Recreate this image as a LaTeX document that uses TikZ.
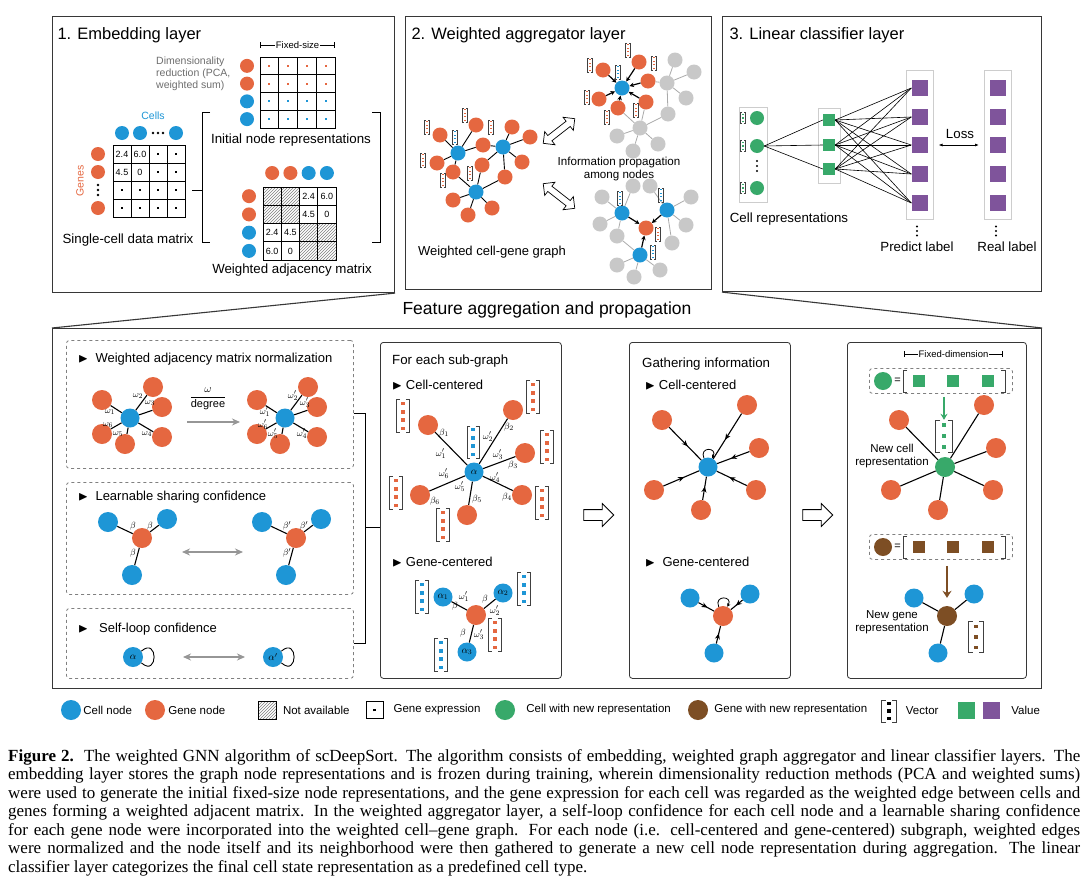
\documentclass[tikz,border=0pt]{standalone}
\usepackage{amsmath,amssymb}
\usepackage{fontspec}
\setmainfont{Liberation Sans}
\newfontfamily\capfont{Liberation Serif}
\usetikzlibrary{positioning,calc,patterns,shapes.arrows,arrows.meta,decorations.markings}

\definecolor{cellblue}{RGB}{30,150,214}
\definecolor{geneorange}{RGB}{229,103,64}
\definecolor{newgreen}{RGB}{56,169,106}
\definecolor{newbrown}{RGB}{125,78,36}
\definecolor{valpurple}{RGB}{127,84,155}
\definecolor{othergray}{RGB}{200,200,200}
\definecolor{framegray}{RGB}{55,55,55}
\definecolor{boxgray}{RGB}{205,205,205}
\definecolor{dimgray}{RGB}{110,110,110}
\definecolor{arrowgray}{RGB}{150,150,150}

\tikzset{
  panelbox/.style={draw=framegray,line width=1.1pt,inner sep=0pt},
  subbox/.style={draw=framegray,line width=0.8pt,rounded corners=3pt,inner sep=0pt},
  dashbox/.style={draw=gray,dashed,line width=0.8pt,rounded corners=3pt,inner sep=0pt},
  nodedot/.style={circle,inner sep=0pt,minimum size=#1},
  cellnode/.style={nodedot=#1,fill=cellblue},
  cellnode/.default=19,
  genenode/.style={nodedot=#1,fill=geneorange},
  genenode/.default=20,
  othernode/.style={nodedot=#1,fill=othergray},
  othernode/.default=15,
  greennode/.style={nodedot=#1,fill=newgreen},
  greennode/.default=20,
  valuebox/.style={rectangle,inner sep=0pt,minimum size=#1},
  link/.style={line width=1.1pt},
  thinlink/.style={line width=0.6pt},
  graylink/.style={draw=othergray!85!black,line width=0.8pt},
  pushin/.style={-{Stealth[length=4.5pt,width=4.5pt]},line width=1.2pt},
  midarrow/.style={line width=1.1pt,postaction={decorate},
    decoration={markings,mark=at position 0.58 with {\arrow{Stealth[length=6pt,width=5pt]}}}},
  grayarrow/.style={{Stealth[length=8pt,width=7pt]}-{Stealth[length=8pt,width=7pt]},draw=arrowgray,line width=1.6pt},
  grayonearrow/.style={-{Stealth[length=8pt,width=7pt]},draw=arrowgray,line width=1.6pt},
  bracketline/.style={draw=darkgray,line width=0.6pt},
  headline/.style={anchor=west,inner sep=0pt,font=\fontsize{13}{15}\selectfont},
  labeltext/.style={font=\fontsize{13.3}{16}\selectfont},
  wlabel/.style={inner sep=0.5pt,font=\fontsize{9.5}{10}\selectfont},
  mcell/.style={draw,line width=0.7pt,inner sep=0pt},
  cellnum/.style={inner sep=0pt,font=\fontsize{9}{10}\selectfont},
  hatchcell/.style={pattern=north east lines,pattern color=gray},
  legendtext/.style={inner sep=0pt,anchor=west,font=\fontsize{11.5}{13}\selectfont}
}

% bracketed vector: name, position, colour, dots, width, height
\newcommand{\vecmark}[6]{%
  \node[inner sep=0pt,minimum width=#5,minimum height=#6] (#1) at (#2) {};
  \draw[bracketline] ([xshift=0.3*#5]#1.north west) -- (#1.north west) -- (#1.south west) -- ([xshift=0.3*#5]#1.south west);
  \draw[bracketline] ([xshift=-0.3*#5]#1.north east) -- (#1.north east) -- (#1.south east) -- ([xshift=-0.3*#5]#1.south east);
  \foreach \k in {1,...,#4}
    \fill[#3] ($(#1.north)!{(\k-0.5)/#4}!(#1.south)$) +(-0.13*#5,-0.13*#5) rectangle +(0.13*#5,0.13*#5);
}
\newcommand{\starlist}{1/-46/-47, 2/39/-62, 3/51/-19, 4/48/23, 5/-7/43, 6/-54/23}
\newcommand{\triadlist}{1/-33/-18, 2/27/-22, 3/-9/37}

\begin{document}
\begin{tikzpicture}[x=1pt,y=-1pt]
 \fill[white] (0,0) rectangle (1092,889);
 \useasboundingbox (0,0) rectangle (1092,889);

 % frames
 \node[panelbox,anchor=north west,minimum width=342,minimum height=276] (p1) at (52,16) {};
 \node[panelbox,anchor=north west,minimum width=306,minimum height=273] (p2) at (405,16) {};
 \node[panelbox,anchor=north west,minimum width=319,minimum height=275] (p3) at (722,16) {};
 \node[panelbox,anchor=north west,minimum width=989,minimum height=360] (p4) at (52,328) {};
 \draw[line width=1.1pt,framegray] (p1.south east) -- (p4.north west);
 \draw[line width=1.1pt,framegray] (p3.south west) -- (p4.north east);
 \node[font=\fontsize{17.5}{20}\selectfont] (fap) at (547,310) {Feature aggregation and propagation};

 % 1. Embedding layer
 \node[anchor=west,font=\fontsize{16.5}{19}\selectfont] (t1) at (54,35) {1. Embedding layer};
 \foreach \r in {1,...,4} \foreach \c in {1,...,4}
  \node[mcell,minimum size=18] (dm\r\c) at (104+18*\c,136+18*\r) {};
 \foreach \r/\c/\t in {1/1/2.4,1/2/6.0,2/1/4.5,2/2/0} \node[cellnum] (dmt\r\c) at (dm\r\c) {\t};
 \foreach \r/\c in {1/3,1/4,2/3,2/4,3/1,3/2,3/3,3/4,4/1,4/2,4/3,4/4} \fill (dm\r\c) +(-1,-1) rectangle +(1,1);
 \foreach \i/\x in {1/122,2/140,4/176} \node[cellnode=14] (dc\i) at (\x,133) {};
 \foreach \k in {-1,0,1} \fill (158+5*\k,133) circle (1.3);
 \foreach \i/\y in {1/154,2/172,4/208} \node[genenode=14] (dg\i) at (98,\y) {};
 \foreach \k in {-1,0,1} \fill (98,190+5*\k) circle (1.3);
 \node[text=cellblue,font=\fontsize{10.5}{12}\selectfont] (cellslbl) at (153,116) {Cells};
 \node[text=geneorange,rotate=90,font=\fontsize{10.5}{12}\selectfont] (geneslbl) at (80,181) {Genes};
 \node[labeltext] (scdm) at (128,240) {Single-cell data matrix};

 \draw[line width=0.8pt] (210,112) -- (202,112) -- (202,242) -- (210,242);
 \draw[line width=0.8pt] (372,112) -- (380,112) -- (380,242) -- (372,242);
 \draw[line width=0.8pt] (192,190) -- (202,190);

 \draw[|-|,line width=0.6pt] (260,45) -- (335,45) node[midway,fill=white,inner sep=1pt,font=\fontsize{9.5}{10}\selectfont] (fxs) {Fixed-size};
 \node[anchor=north west,align=left,text=dimgray,inner sep=0pt,font=\fontsize{10.5}{11.8}\selectfont] (dimred) at (156,57) {Dimensionality\\reduction (PCA,\\weighted sum)};
 \foreach \r/\col in {1/geneorange,2/geneorange,3/cellblue,4/cellblue} {
  \node[nodedot=14,fill=\col] (ir\r) at (247,48.1+17.75*\r) {};
  \foreach \c in {1,...,4} {
   \node[mcell,minimum width=18.75,minimum height=17.75] (inr\r\c) at (250.6+18.75*\c,48.1+17.75*\r) {};
   \fill[\col] (inr\r\c) +(-1,-1) rectangle +(1,1);
  }
 }
 \node[labeltext] (inrlbl) at (291,140) {Initial node representations};

 \foreach \r/\c in {1/1,1/2,2/1,2/2,3/3,3/4,4/3,4/4}
  \path[hatchcell] (253.9+18.25*\c,177.9+18.25*\r) +(-9.1,-9.1) rectangle +(9.1,9.1);
 \foreach \r in {1,...,4} \foreach \c in {1,...,4}
  \node[mcell,minimum size=18.25] (wam\r\c) at (253.9+18.25*\c,177.9+18.25*\r) {};
 \foreach \r/\c/\t in {1/3/2.4,1/4/6.0,2/3/4.5,2/4/0,3/1/2.4,3/2/4.5,4/1/6.0,4/2/0} \node[cellnum] (wamt\r\c) at (wam\r\c) {\t};
 \foreach \i/\col in {1/geneorange,2/geneorange,3/cellblue,4/cellblue} {
  \node[nodedot=14,fill=\col] (wt\i) at (253.9+18.25*\i,173) {};
  \node[nodedot=14,fill=\col] (wl\i) at (249,177.9+18.25*\i) {};
 }
 \node[labeltext] (wamlbl) at (292,270) {Weighted adjacency matrix};

 % 2. Weighted aggregator layer
 \node[anchor=west,font=\fontsize{16.5}{19}\selectfont] (t2) at (408,35) {2. Weighted aggregator layer};
 \foreach \n/\x/\y in {1/458/153,2/503/147,3/476/192} \node[cellnode=15] (lc\n) at (\x,\y) {};
 \foreach \n/\x/\y in {1/440/135,2/476/125,3/512/127,4/530/137,5/437/163,6/453/172,7/483/145,8/482/165,9/522/162,10/505/177,11/453/200,12/468/215,13/492/208}
  \node[genenode=15] (lg\n) at (\x,\y) {};
 \foreach \a/\b in {lc1/lg1,lc1/lg2,lc1/lg5,lc1/lg6,lc1/lg7,lc2/lg3,lc2/lg4,lc2/lg7,lc2/lg8,lc2/lg9,lc2/lg10,lc3/lg6,lc3/lg8,lc3/lg10,lc3/lg11,lc3/lg12,lc3/lg13}
  \draw[line width=0.9pt] (\a) -- (\b);
 \foreach \n/\x/\y/\c in {1/427/127/geneorange,2/465/115/geneorange,3/491/127/geneorange,4/423/160/geneorange,5/443/180/geneorange,6/470/173/geneorange,7/455/137/cellblue}
  {\vecmark{lv\n}{\x,\y}{\c}{4}{5}{14}}
 \node[font=\fontsize{13}{15}\selectfont] (wcgg) at (492,252) {Weighted cell-gene graph};
 \node[double arrow,draw,line width=0.7pt,fill=white,minimum height=40,inner sep=3pt,double arrow head extend=5pt,rotate=38] (da1) at (559,131) {};
 \node[double arrow,draw,line width=0.7pt,fill=white,minimum height=40,inner sep=3pt,double arrow head extend=5pt,rotate=-38] (da2) at (559,196) {};
 \node[align=center,font=\fontsize{11.6}{12.5}\selectfont] (infoprop) at (619,169) {Information propagation\\among nodes};

 % upper sub-graph
 \foreach \n/\x/\y in {1/667/83,2/675/60,3/694/72,4/686/98,5/640/128,6/668/114,7/617/136,8/633/151,9/658/144}
  \node[othernode] (ug\n) at (\x,\y) {};
 \node[cellnode=15] (uu) at (622,88) {};
 \foreach \n/\x/\y in {1/603/70,2/639/62,3/648/81,4/599/99,5/618/108,6/646/102}
  \node[genenode=15] (uo\n) at (\x,\y) {};
 \foreach \a/\b in {ug1/ug2,ug1/ug3,ug1/ug4,ug1/uo3,ug1/ug6,ug5/ug6,ug5/ug7,ug5/ug8,ug5/ug9,ug5/uo5,ug5/uo6}
  \draw[graylink] (\a) -- (\b);
 \foreach \n in {1,...,6} \draw[pushin] (uo\n) -- (uu);
 \foreach \n/\x/\y/\c in {1/590/65/geneorange,2/628/50/geneorange,3/654/63/geneorange,4/587/97/geneorange,5/607/117/geneorange,6/636/110/geneorange,7/618/72/cellblue}
  {\vecmark{uv\n}{\x,\y}{\c}{4}{5}{14}}

 % lower sub-graph
 \foreach \n/\x/\y in {1/602/197,2/633/186,3/600/224,4/617/236,5/650/186,6/691/197,7/686/225,8/672/243,10/617/265,11/634/277,12/660/270}
  \node[othernode] (kg\n) at (\x,\y) {};
 \foreach \n/\x/\y in {1/622/213,2/667/210,3/640/255} \node[cellnode=15] (lb\n) at (\x,\y) {};
 \node[genenode=15] (lbo) at (646,228) {};
 \foreach \a/\b in {lb1/kg1,lb1/kg2,lb1/kg3,lb1/kg4,lb2/kg5,lb2/kg6,lb2/kg7,lb2/kg8,lb3/kg10,lb3/kg11,lb3/kg12,lb3/kg4}
  \draw[graylink] (\a) -- (\b);
 \foreach \n in {1,2,3} \draw[pushin] (lb\n) -- (lbo);
 \foreach \n/\x/\y/\c in {1/620/198/cellblue,2/661/195/cellblue,3/653/252/cellblue,4/658/234/geneorange}
  {\vecmark{kv\n}{\x,\y}{\c}{4}{5}{14}}

 % 3. Linear classifier layer
 \node[anchor=west,font=\fontsize{16.5}{19}\selectfont] (t3) at (726,35) {3. Linear classifier layer};
 \node[draw=boxgray,line width=1pt,minimum width=28,minimum height=95] (crbox) at (753,154.5) {};
 \foreach \n/\y in {1/118,2/146,3/188} {
  \node[greennode=14] (cr\n) at (757,\y) {};
  \vecmark{crv\n}{743,\y}{newgreen}{3}{5}{11}
 }
 \foreach \k in {-1,0,1} \fill (757,166+5*\k) circle (1.2);
 \node[labeltext] (crlbl) at (789,219) {Cell representations};
 \node[draw=boxgray,line width=1pt,minimum width=22,minimum height=75] (hdbox) at (829,145.5) {};
 \foreach \n/\y in {1/120,2/145,3/169} \node[valuebox=12,fill=newgreen] (hd\n) at (829,\y) {};
 \node[draw=boxgray,line width=1pt,minimum width=27,minimum height=149] (plbox) at (919.5,144.5) {};
 \node[draw=boxgray,line width=1pt,minimum width=27,minimum height=149] (rlbox) at (998,144.5) {};
 \foreach \n/\y in {1/88,2/117,3/145,4/174,5/203} {
  \node[valuebox=16,fill=valpurple] (pl\n) at (919.5,\y) {};
  \node[valuebox=16,fill=valpurple] (rl\n) at (998,\y) {};
 }
 \foreach \h in {1,2,3} \draw[thinlink] (cr2.east) -- (hd\h.west);
 \foreach \h in {1,2,3} \foreach \p in {1,...,5} \draw[thinlink] (hd\h.east) -- (pl\p.west);
 \foreach \k in {-1,0,1} {
  \fill (917,231+4.5*\k) circle (1.2);
  \fill (996,231+4.5*\k) circle (1.2);
 }
 \node[labeltext] (pllbl) at (917,247) {Predict label};
 \node[labeltext] (rllbl) at (1007,247) {Real label};
 \node[labeltext] (loss) at (960,134) {Loss};
 \draw[{Latex[length=4pt]}-{Latex[length=4pt]},line width=0.8pt] ([xshift=5]plbox.east |- pl3) -- ([xshift=-5]rlbox.west |- rl3);

 % normalization, sharing and self-loop boxes
 \node[dashbox,anchor=north west,minimum width=287,minimum height=128] (dbox1) at (66,340) {};
 \node[dashbox,anchor=north west,minimum width=287,minimum height=112] (dbox2) at (66,482) {};
 \node[dashbox,anchor=north west,minimum width=287,minimum height=70] (dbox3) at (66,608) {};
 \node[headline] (h1) at (78,359) {$\blacktriangleright$\ \ Weighted adjacency matrix normalization};
 \node[headline] (h2) at (78,497) {$\blacktriangleright$\ \ Learnable sharing confidence};
 \node[headline] (h3) at (78,629) {$\blacktriangleright$\ \ \ Self-loop confidence};

 \node[cellnode] (wa) at (130,418) {};
 \node[cellnode] (wb) at (285,418) {};
 \foreach \i/\dx/\dy in {1/-28/-18,2/23/-31,3/32/-11,4/32/19,5/-5/26,6/-28/16} {
  \node[genenode] (wa\i) at ($(wa)+(\dx,\dy)$) {};
  \node[genenode] (wb\i) at ($(wb)+(\dx,\dy)$) {};
  \draw[link] (wa) -- (wa\i);
  \draw[link] (wb) -- (wb\i);
 }
 \foreach \i/\dx/\dy in {1/-20/-6,2/8/-22,3/20/-15,4/17/16,5/-12/16,6/-22/7} {
  \node[wlabel] (waw\i) at ($(wa)+(\dx,\dy)$) {$\omega_{\i}$};
  \node[wlabel] (wbw\i) at ($(wb)+(\dx,\dy)$) {$\omega'_{\i}$};
 }
 \node[font=\fontsize{11}{12}\selectfont] (frac) at (208,399) {$\dfrac{\omega}{\text{degree}}$};
 \draw[grayonearrow] ($(wa)+(57,4)$) -- ($(wb)+(-45,4)$);

 \node[genenode] (sc) at (142,538) {};
 \node[genenode] (sd) at (296,538) {};
 \foreach \i/\dx/\dy in {1/-34/-16,2/25/-19,3/-10/37} {
  \node[cellnode=20] (sc\i) at ($(sc)+(\dx,\dy)$) {};
  \node[cellnode=20] (sd\i) at ($(sd)+(\dx,\dy)$) {};
  \draw[link] (sc) -- (sc\i);
  \draw[link] (sd) -- (sd\i);
 }
 \foreach \i/\dx/\dy in {1/-9/-12,2/8/-12,3/-9/15} {
  \node[wlabel] (scb\i) at ($(sc)+(\dx,\dy)$) {$\beta$};
  \node[wlabel] (sdb\i) at ($(sd)+(\dx,\dy)$) {$\beta'$};
 }
 \draw[grayarrow] ($(sc)+(40,14)$) -- ($(sd)+(-53,14)$);

 \node[cellnode=20,font=\fontsize{10}{11}\selectfont] (sa) at (133,657) {$\alpha$};
 \node[cellnode=20,font=\fontsize{10}{11}\selectfont] (sb) at (273,657) {$\alpha'$};
 \draw[line width=0.9pt] (sa.35) .. controls +(17,-15) and +(17,15) .. (sa.-35);
 \draw[line width=0.9pt] (sb.35) .. controls +(17,-15) and +(17,15) .. (sb.-35);
 \draw[grayarrow] ($(sa)+(50,0)$) -- ($(sb)+(-28,0)$);

 \coordinate (bt) at (365,413);
 \coordinate (bm) at (365,527);
 \coordinate (bb) at (365,643);
 \draw[line width=0.8pt] (dbox1.east |- bt) -- (bt) -- (bb) -- (dbox3.east |- bb);

 % for each sub-graph
 \node[subbox,anchor=north west,minimum width=181,minimum height=336] (sg) at (380,342) {};
 \draw[line width=0.8pt] (bm) -- (sg.west |- bm);
 \node[anchor=west,inner sep=0pt,font=\fontsize{13.3}{15}\selectfont] (sgt) at (392,361) {For each sub-graph};
 \node[headline] (sgh1) at (392,385) {$\blacktriangleright$\ Cell-centered};
 \node[headline] (sgh2) at (392,562) {$\blacktriangleright$\ Gene-centered};
 \node[cellnode,font=\fontsize{10}{11}\selectfont] (ca) at (474,472) {$\alpha$};
 \foreach \i/\dx/\dy in \starlist {
  \node[genenode] (ca\i) at ($(ca)+(\dx,\dy)$) {};
  \draw[link] (ca) -- (ca\i);
 }
 \foreach \i/\vx/\vy in {1/-25/-9,2/20/-13,3/22/-6,4/20/8,5/-24/10,6/-24/-2}
  {\vecmark{cav\i}{$(ca\i)+(\vx,\vy)$}{geneorange}{4}{13}{33}}
 \vecmark{cav0}{473,442}{cellblue}{4}{12}{32}
 \foreach \t/\x/\y [count=\j] in {{\beta_1}/444/433,{\omega'_1}/441/454,{\omega'_2}/488/437,{\beta_2}/509/427,{\omega'_3}/498/455,{\beta_3}/513/465,{\omega'_4}/495/478,{\beta_4}/507/497,{\omega'_5}/460/487,{\beta_5}/477/499,{\omega'_6}/444/474,{\beta_6}/435/501}
  \node[wlabel] (cal\j) at (\x,\y) {$\t$};

 \node[genenode] (cg) at (476,615) {};
 \foreach \i/\dx/\dy in \triadlist {
  \node[cellnode,font=\fontsize{10}{11}\selectfont] (cg\i) at ($(cg)+(\dx,\dy)$) {$\alpha_{\i}$};
  \draw[link] (cg) -- (cg\i);
 }
 \foreach \n/\x/\y/\c in {1/422/597/cellblue,2/524/589/cellblue,3/441/655/cellblue,4/495/635/geneorange}
  {\vecmark{cgv\n}{\x,\y}{\c}{4}{13}{33}}
 \foreach \t/\x/\y [count=\j] in {{\omega'_1}/464/597,{\beta}/455/606,{\beta}/485/599,{\omega'_2}/495/611,{\beta}/463/633,{\omega'_3}/479/635}
  \node[wlabel] (cgl\j) at (\x,\y) {$\t$};

 \node[single arrow,draw,line width=0.8pt,minimum height=30,inner sep=5pt,single arrow head extend=6pt] (oa1) at (596,515) {};

 % gathering information
 \node[subbox,anchor=north west,minimum width=161,minimum height=336] (gi) at (629,342) {};
 \node[anchor=west,inner sep=0pt,font=\fontsize{13.3}{15}\selectfont] (git) at (642,364) {Gathering information};
 \node[headline] (gih1) at (645,385) {$\blacktriangleright$\ Cell-centered};
 \node[headline] (gih2) at (645,562) {$\blacktriangleright$\ \ Gene-centered};
 \node[cellnode] (ga) at (708,467) {};
 \foreach \i/\dx/\dy in \starlist {
  \node[genenode] (ga\i) at ($(ga)+(\dx,\dy)$) {};
  \draw[midarrow] (ga\i) -- (ga);
 }
 \draw[line width=0.8pt,-{Stealth[length=3.5pt,width=3.5pt]}] (ga.115) .. controls +(-5,-12) and +(6,-11) .. (ga.65);
 \node[genenode] (gg) at (723,616) {};
 \foreach \i/\dx/\dy in \triadlist {
  \node[cellnode] (gg\i) at ($(gg)+(\dx,\dy)$) {};
  \draw[midarrow] (gg\i) -- (gg);
 }
 \draw[line width=0.8pt,-{Stealth[length=3.5pt,width=3.5pt]}] (gg.115) .. controls +(-5,-12) and +(6,-11) .. (gg.65);

 \node[single arrow,draw,line width=0.8pt,minimum height=30,inner sep=5pt,single arrow head extend=6pt] (oa2) at (815,515) {};

 % new representations
 \node[subbox,anchor=north west,minimum width=179,minimum height=336] (nr) at (847,342) {};
 \draw[|-|,line width=0.6pt] (904,354) -- (1003,354) node[midway,fill=white,inner sep=1pt,font=\fontsize{9.5}{10}\selectfont] (fxd) {Fixed-dimension};
 \node[dashbox,anchor=north west,minimum width=143,minimum height=25] (eq1) at (869,368) {};
 \node[dashbox,anchor=north west,minimum width=143,minimum height=25] (eq2) at (869,534) {};
 \node[greennode=18] (eqc1) at (883,381) {};
 \node[nodedot=18,fill=newbrown] (eqc2) at (883,547) {};
 \foreach \q/\y/\c in {1/381/newgreen,2/547/newbrown} {
  \node[inner sep=0pt,font=\fontsize{11}{12}\selectfont] (eqs\q) at (897.5,\y) {=};
  \draw[line width=0.8pt,darkgray] (907,\y-11) -- (903,\y-11) -- (903,\y+11) -- (907,\y+11);
  \draw[line width=0.8pt,darkgray] (1001,\y-11) -- (1005,\y-11) -- (1005,\y+11) -- (1001,\y+11);
  \foreach \n/\x in {1/919,2/953,3/988} \node[valuebox=12,fill=\c] (eqv\q\n) at (\x,\y) {};
 }
 \vecmark{nvec}{944,436}{newgreen}{3}{17}{32}
 \draw[-{Stealth[length=6pt,width=7pt]},newgreen,line width=1.5pt] ([yshift=-3]eq1.south -| nvec) -- (nvec.north);
 \node[greennode] (nc) at (945,467) {};
 \foreach \i/\dx/\dy in \starlist {
  \node[genenode] (nc\i) at ($(nc)+(\dx,\dy)$) {};
  \draw[link] (nc) -- (nc\i);
 }
 \node[align=center,font=\fontsize{11.5}{12.5}\selectfont] (nclbl) at (892,456) {New cell\\representation};
 \node[nodedot=20,fill=newbrown] (ng) at (947,616) {};
 \draw[-{Stealth[length=7pt,width=9pt]},newbrown,line width=2pt] ([yshift=-6]eq2.south -| ng) -- ([yshift=8]ng.north);
 \foreach \i/\dx/\dy in \triadlist {
  \node[cellnode] (ng\i) at ($(ng)+(\dx,\dy)$) {};
  \draw[link] (ng) -- (ng\i);
 }
 \vecmark{ngv}{976,637}{newbrown}{3}{15}{31}
 \node[align=center,font=\fontsize{11.5}{12.5}\selectfont] (nglbl) at (892,622) {New gene\\representation};

 % legend
 \node[cellnode=20] (lgc) at (71,710) {};
 \node[legendtext,right=2pt of lgc] (lgct) {Cell node};
 \node[genenode=20] (lgg) at (155,710) {};
 \node[legendtext,right=3pt of lgg] (lggt) {Gene node};
 \node[draw,line width=0.6pt,hatchcell,minimum size=18] (lgh) at (267.5,710) {};
 \node[legendtext,right=6pt of lgh] (lght) {Not available};
 \node[draw,line width=0.7pt,minimum size=17,inner sep=0pt] (lge) at (374.5,710) {\rule{2.5pt}{2.5pt}};
 \node[legendtext,right=10pt of lge] (lget) {Gene expression};
 \node[greennode] (lgn) at (505,710) {};
 \node[legendtext,right=11pt of lgn] (lgnt) {Cell with new representation};
 \node[nodedot=20,fill=newbrown] (lgb) at (698,710) {};
 \node[legendtext,right=6pt of lgb] (lgbt) {Gene with new representation};
 \vecmark{lgv}{889,711}{black}{3}{15}{22}
 \node[legendtext,right=9pt of lgv] (lgvt) {Vector};
 \node[valuebox=17,fill=newgreen] (lgs1) at (966.5,710) {};
 \node[valuebox=17,fill=valpurple] (lgs2) at (991.5,710) {};
 \node[legendtext,right=11pt of lgs2] (lgst) {Value};

 % caption
 \node[anchor=north west,align=left,inner sep=0pt,font=\capfont\fontsize{17}{18.5}\selectfont] (caption) at (8,749) {%
  \makebox[1072pt][s]{\textbf{Figure 2.}\ \ The weighted GNN algorithm of scDeepSort. The algorithm consists of embedding, weighted graph aggregator and linear classifier layers. The}\\
  \makebox[1072pt][s]{embedding layer stores the graph node representations and is frozen during training, wherein dimensionality reduction methods (PCA and weighted sums)}\\
  \makebox[1072pt][s]{were used to generate the initial fixed-size node representations, and the gene expression for each cell was regarded as the weighted edge between cells and}\\
  \makebox[1072pt][s]{genes forming a weighted adjacent matrix. In the weighted aggregator layer, a self-loop confidence for each cell node and a learnable sharing confidence}\\
  \makebox[1072pt][s]{for each gene node were incorporated into the weighted cell–gene graph. For each node (i.e. cell-centered and gene-centered) subgraph, weighted edges}\\
  \makebox[1072pt][s]{were normalized and the node itself and its neighborhood were then gathered to generate a new cell node representation during aggregation. The linear}\\
  classifier layer categorizes the final cell state representation as a predefined cell type.};
\end{tikzpicture}
\end{document}
